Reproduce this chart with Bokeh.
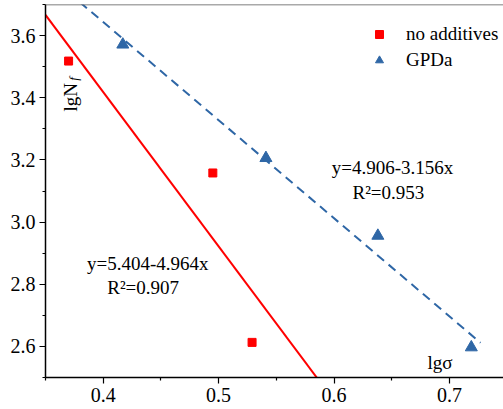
import math
from bokeh.plotting import figure
from bokeh.models import Range1d, FixedTicker, Span, Label, Legend, LegendItem
from bokeh.embed import file_html
from bokeh.resources import INLINE

# ---- data ----
x_no = [0.370, 0.495, 0.529]
y_no = [3.518, 3.158, 2.613]
x_gp = [0.417, 0.541, 0.638, 0.719]
y_gp = [3.571, 3.206, 2.956, 2.597]

fit_no = [5.404, -4.964]   # intercept, slope
fit_gp = [4.906, -3.156]
span_no = [0.35, 0.60]
span_gp = [0.37, 0.727]

x_ticks = [0.4, 0.5, 0.6, 0.7]
x_minor = [0.35, 0.45, 0.55, 0.65, 0.75]
y_ticks = [2.6, 2.8, 3.0, 3.2, 3.4, 3.6]
y_minor = [2.5, 2.7, 2.9, 3.1, 3.3, 3.5, 3.7]

RED = "#FF0000"
BLUE = "#2F67A6"
FONT = "'Liberation Serif', serif"
FS = "19px"
FS_TICK = "20px"

p = figure(width=503, height=409, output_backend="svg", toolbar_location=None,
           x_range=Range1d(0.35, 0.35 + 458 / 1154), y_range=Range1d(2.5, 3.7),
           min_border_left=45, min_border_right=0, min_border_top=4, min_border_bottom=32)
p.outline_line_color = None
p.xgrid.visible = False
p.ygrid.visible = False
p.background_fill_color = "white"

for ax, t, m in ((p.xaxis[0], x_ticks, x_minor), (p.yaxis[0], y_ticks, y_minor)):
    ax.ticker = FixedTicker(ticks=t, minor_ticks=m)
    ax.major_label_overrides = {v: f"{v:.1f}" for v in t}
    ax.axis_line_color = "black"
    ax.axis_line_width = 1.5
    ax.major_tick_line_color = "black"
    ax.minor_tick_line_color = "black"
    ax.major_tick_line_width = 1.2
    ax.minor_tick_line_width = 1.2
    ax.major_tick_in = 0
    ax.major_tick_out = 6
    ax.minor_tick_in = 0
    ax.minor_tick_out = 3
    ax.major_label_text_font = FONT
    ax.major_label_text_font_size = FS_TICK
    ax.major_label_text_color = "black"
    ax.major_label_standoff = 4

p.add_layout(Span(location=3.7, dimension="width", line_color="#555555", line_width=1.5))

# fit lines
xs_no = span_no
ys_no = [fit_no[0] + fit_no[1] * v for v in xs_no]
xs_gp = span_gp
ys_gp = [fit_gp[0] + fit_gp[1] * v for v in xs_gp]
p.line(xs_no, ys_no, line_color=RED, line_width=2)
p.line(xs_gp, ys_gp, line_color=BLUE, line_width=2, line_dash="9 6")

r1 = p.scatter(x_no, y_no, marker="square", size=8, fill_color=RED, line_color=RED)
r2 = p.scatter(x_gp, y_gp, marker="triangle", size=12, fill_color=BLUE, line_color=BLUE)

legend = Legend(items=[LegendItem(label="no additives", renderers=[r1]),
                       LegendItem(label="GPDa", renderers=[r2])],
                location=(324, 306), orientation="vertical", padding=0, margin=0,
                spacing=4, glyph_width=20, glyph_height=20, label_height=20,
                label_standoff=17, border_line_color=None, background_fill_alpha=0,
                label_text_font=FONT, label_text_font_size=FS, label_text_color="black")
p.add_layout(legend)

def lab(x, y, txt, **kw):
    opts = dict(text_font=FONT, text_font_size=FS, text_color="black",
                text_align="left", text_baseline="alphabetic")
    opts.update(kw)
    p.add_layout(Label(x=x, y=y, text=txt, **opts))

lab(0.598, 3.177, "y=4.906-3.156x")
lab(0.616, 3.094, "R²=0.953")
lab(0.386, 2.868, "y=5.404-4.964x")
lab(0.4035, 2.790, "R²=0.907")
lab(0.681, 2.548, "lgσ")
lab(0.3714, 3.356, "lgN", angle=math.pi / 2)
lab(0.3745, 3.455, "f", angle=math.pi / 2, text_font_style="italic", text_font_size="13px")

open("out.html", "w").write(file_html(p, INLINE))
